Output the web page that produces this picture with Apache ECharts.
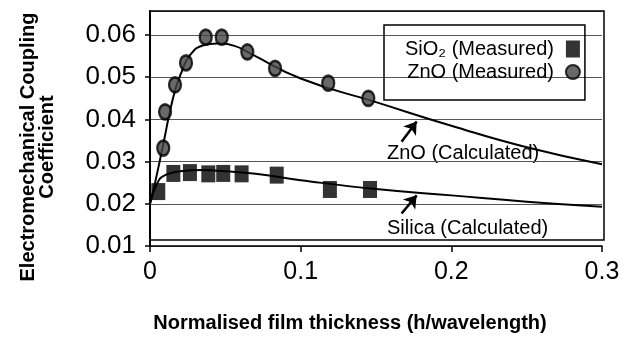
<!DOCTYPE html>
<html>
<head>
<meta charset="utf-8">
<script src="https://cdn.jsdelivr.net/npm/echarts@6/dist/echarts.min.js"></script>
<style>
  html, body { margin: 0; padding: 0; background: #fff; }
  #chart { width: 628px; height: 347px; }
</style>
</head>
<body>
<div id="chart"></div>
<script>
// measured points [thickness, coupling]
const sio2Measured = [
  [0.0055, 0.0229], [0.0155, 0.0272], [0.0265, 0.0274], [0.0387, 0.0271],
  [0.0486, 0.0272], [0.0608, 0.0271], [0.0841, 0.0268], [0.1194, 0.0234],
  [0.146, 0.0234]
];
const znoMeasured = [
  [0.0088, 0.0332], [0.0100, 0.0418], [0.0166, 0.0482], [0.0239, 0.0534],
  [0.0370, 0.0595], [0.0476, 0.0595], [0.0646, 0.0560], [0.0830, 0.0521],
  [0.1183, 0.0486], [0.1449, 0.0450]
];
// calculated curves
const znoCalculated = [
  [0, 0.0200], [0.0033, 0.0249], [0.0089, 0.0343], [0.0155, 0.0454],
  [0.021, 0.0513], [0.0267, 0.0553], [0.0355, 0.0576], [0.0444, 0.0580],
  [0.0555, 0.0575], [0.0667, 0.0556], [0.100, 0.0497], [0.150, 0.0441],
  [0.200, 0.0385], [0.250, 0.0334], [0.300, 0.0294]
];
const silicaCalculated = [
  [0, 0.0200], [0.005, 0.0250], [0.010, 0.0268], [0.020, 0.0277],
  [0.035, 0.0280], [0.050, 0.0277], [0.070, 0.0271], [0.100, 0.0256],
  [0.150, 0.0235], [0.200, 0.0220], [0.250, 0.0205], [0.300, 0.0193]
];
const xTicks = [0, 0.1, 0.2, 0.3];
const yTicks = [0.01, 0.02, 0.03, 0.04, 0.05, 0.06];

const FONT = "Liberation Sans";
const chart = echarts.init(document.getElementById("chart"));

chart.setOption({
  animation: false,
  grid: { left: 150, right: 26, top: 11, bottom: 101 },
  legend: {
    data: ["SiO\u2082 (Measured)", "ZnO (Measured)"],
    orient: "vertical",
    align: "right",
    left: 384,
    top: 25,
    padding: [13, 4, 17, 21],
    itemGap: 1,
    itemWidth: 14,
    itemHeight: 17,
    borderColor: "#000",
    borderWidth: 1.5,
    textStyle: { fontFamily: FONT, fontSize: 20, color: "#000", lineHeight: 22, padding: [0, 7, 0, 0] },
  },
  xAxis: {
    type: "value",
    min: 0,
    max: 0.3,
    interval: 0.1,
    axisLine: { lineStyle: { color: "#000", width: 1.5 } },
    axisTick: { length: 6, lineStyle: { color: "#000", width: 1.5 } },
    splitLine: { show: false },
    axisLabel: {
      fontFamily: FONT, fontSize: 25, color: "#000", margin: 14,
      formatter: (v) => (xTicks.includes(+v.toFixed(2)) ? String(+v.toFixed(2)) : ""),
    },
  },
  yAxis: {
    type: "value",
    min: 0.01,
    max: 0.0657,
    interval: 0.01,
    axisLine: { show: true, lineStyle: { color: "#000", width: 2 } },
    axisTick: { show: true, length: 5, lineStyle: { color: "#000", width: 1.5 } },
    splitLine: { show: true, lineStyle: { color: "#555", width: 1 } },
    axisLabel: {
      fontFamily: FONT, fontSize: 26, color: "#000", margin: 14, showMaxLabel: false,
      formatter: (v) => (yTicks.includes(+v.toFixed(3)) ? (+v).toFixed(2) : ""),
    },
  },
  graphic: [
    {
      type: "rect", z: 1, silent: true,
      shape: { x: 150, y: 11, width: 454, height: 229 },
      style: { fill: "none", stroke: "#000", lineWidth: 1.5 },
    },
    {
      type: "text", x: 38, y: 147, rotation: Math.PI / 2,
      style: {
        text: "Electromechanical Coupling\nCoefficient",
        font: "bold 20px " + FONT, fill: "#000",
        align: "center", verticalAlign: "middle", lineHeight: 19,
      },
    },
    {
      type: "text", x: 350, y: 323,
      style: {
        text: "Normalised film thickness (h/wavelength)",
        font: "bold 20px " + FONT, fill: "#000",
        align: "center", verticalAlign: "middle",
      },
    },
    {
      type: "text", x: 387, y: 153,
      style: { text: "ZnO (Calculated)", font: "20px " + FONT, fill: "#000", align: "left", verticalAlign: "middle" },
    },
    {
      type: "text", x: 387, y: 228,
      style: { text: "Silica (Calculated)", font: "20px " + FONT, fill: "#000", align: "left", verticalAlign: "middle" },
    },
  ],
  series: [
    {
      name: "ZnO (Calculated)",
      type: "line",
      data: znoCalculated,
      smooth: 0.5,
      showSymbol: false,
      lineStyle: { color: "#000", width: 2 },
      z: 3,
      markLine: {
        silent: true,
        symbol: ["none", "arrow"],
        symbolSize: 12,
        label: { show: false },
        lineStyle: { color: "#000", width: 2.5, type: "solid" },
        data: [
          [{ coord: [0.167, 0.0347] }, { coord: [0.177, 0.0395] }],
          [{ coord: [0.167, 0.0177] }, { coord: [0.177, 0.0220] }],
        ],
      },
    },
    {
      name: "Silica (Calculated)",
      type: "line",
      data: silicaCalculated,
      smooth: 0.5,
      showSymbol: false,
      lineStyle: { color: "#000", width: 2 },
      z: 3,
    },
    {
      name: "SiO\u2082 (Measured)",
      type: "scatter",
      data: sio2Measured,
      symbol: "rect",
      symbolSize: [14, 17],
      itemStyle: { color: "#000" },
      z: 4,
    },
    {
      name: "ZnO (Measured)",
      type: "scatter",
      data: znoMeasured,
      symbol: "circle",
      symbolSize: [12, 15],
      itemStyle: { color: "#444", borderColor: "#000", borderWidth: 2.5 },
      z: 4,
    },
  ],
});
</script>
</body>
</html>
